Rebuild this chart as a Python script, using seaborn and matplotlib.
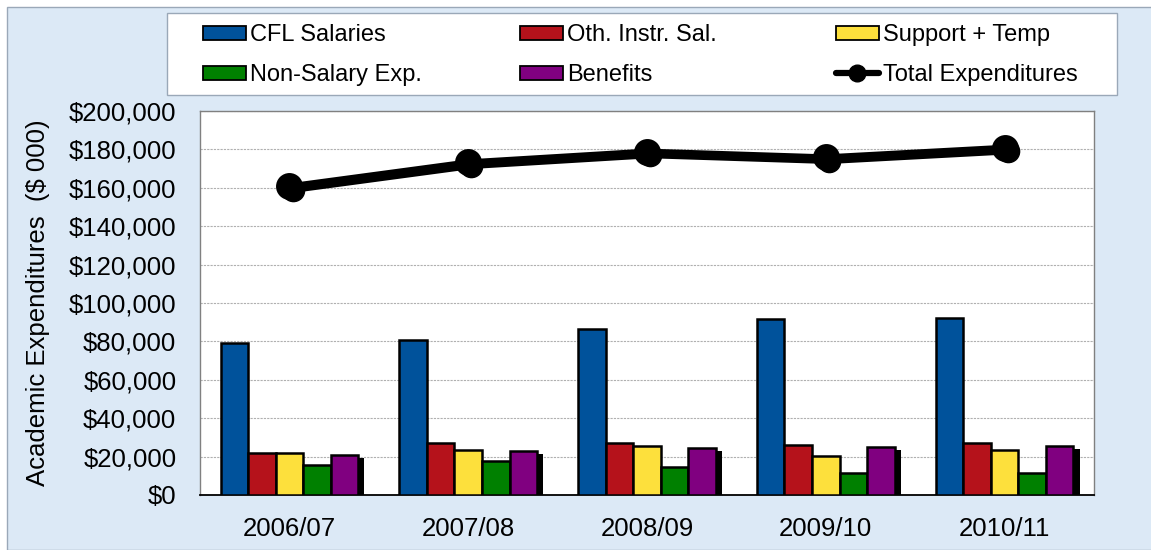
import pandas as pd
import matplotlib
matplotlib.use("Agg")
import matplotlib.pyplot as plt
import seaborn as sns
from matplotlib.patches import Rectangle
from matplotlib.lines import Line2D
from matplotlib.ticker import FuncFormatter, FixedLocator

years = ['2006/07', '2007/08', '2008/09', '2009/10', '2010/11']
cfl_salaries = [79000, 80500, 86500, 91600, 92000]
oth_instr_sal = [21800, 27200, 27300, 26000, 27300]
support_temp = [22000, 23600, 25300, 20500, 23500]
non_salary = [15800, 17700, 14400, 11600, 11200]
benefits = [20800, 22900, 24700, 25000, 25700]
total_exp = [160700, 173200, 178800, 175800, 180800]

series_names = ['CFL Salaries', 'Oth. Instr. Sal.', 'Support + Temp',
                'Non-Salary Exp.', 'Benefits']
colors = ['#00529b', '#b5121b', '#fde03c', '#008000', '#800080']

rows = []
for name, vals in zip(series_names, [cfl_salaries, oth_instr_sal, support_temp,
                                     non_salary, benefits]):
    for yr, v in zip(years, vals):
        rows.append({'year': yr, 'series': name, 'value': v})
df = pd.DataFrame(rows)

sns.set_style('white')
plt.rcParams['font.family'] = ['Liberation Sans', 'DejaVu Sans']
plt.rcParams.update({'text.color': 'black', 'axes.labelcolor': 'black',
                     'xtick.color': 'black', 'ytick.color': 'black'})

W, H = 1151, 550
fig = plt.figure(figsize=(W / 100, H / 100), dpi=100, facecolor='white')
# light blue chart area background
bg = Rectangle((7 / W, 0), 1, 1 - 7 / H, transform=fig.transFigure,
               facecolor='#dce9f6', edgecolor='#9aa8b8', lw=1, zorder=-10)
fig.patches.append(bg)

ax = fig.add_axes([200 / W, 1 - 495 / H, 894 / W, 384 / H])
ax.set_facecolor('white')

sns.barplot(data=df, x='year', y='value', hue='series', palette=colors,
            saturation=1, width=0.77, edgecolor='black', linewidth=1.8, ax=ax,
            legend=False, zorder=3)

# shadow behind the last series (Benefits)
n = len(years)
for p in ax.patches[-n:]:
    sh = Rectangle((p.get_x() + 0.034, 0), p.get_width(), p.get_height() - 1600,
                   facecolor='black', edgecolor='none', zorder=2)
    ax.add_patch(sh)

# total line with shadow
pos = list(range(n))
ax.plot([x + 0.018 for x in pos], [t - 1800 for t in total_exp], color='black',
        lw=4.5, marker='o', markersize=16, zorder=4)
sns.pointplot(x=years, y=total_exp, color='black', markers='o', markersize=16,
              linewidth=4.5, ax=ax, zorder=5)

ax.set_ylim(0, 200000)
ax.set_xlim(-0.5, n - 0.5)
ax.yaxis.set_major_locator(FixedLocator(range(0, 200001, 20000)))
ax.yaxis.set_major_formatter(FuncFormatter(lambda v, p: f'${int(v):,}'))
ax.grid(axis='y', color='#b0b0b0', lw=0.8, ls=(0, (2, 1)), zorder=0)
ax.set_axisbelow(True)

ax.set_xticks(pos)
ax.set_xticklabels(years)
ax.set_xticks([i - 0.5 for i in range(n + 1)], minor=True)
ax.tick_params(axis='x', which='major', length=0, labelsize=18.5, pad=16)
ax.tick_params(axis='x', which='minor', length=8, color='#808080', width=1)
ax.tick_params(axis='y', length=8, color='#808080', width=1, labelsize=18.5,
               pad=9)

for side in ['left', 'top', 'right']:
    ax.spines[side].set_color('#808080')
    ax.spines[side].set_linewidth(1)
ax.spines['bottom'].set_color('black')
ax.spines['bottom'].set_linewidth(1.3)

ax.set_xlabel('')
ax.set_ylabel('Academic Expenditures  ($ 000)', fontsize=18.5)
ax.yaxis.set_label_coords(-0.168, 0.5)

# legend box with three columns (row-wise order)
fig.patches.append(Rectangle((167 / W, 1 - 95 / H), 950 / W, 82 / H,
                             transform=fig.transFigure, facecolor='white',
                             edgecolor='#9aa8b8', lw=1, zorder=-5))
patch = lambda c: Rectangle((0, 0), 1, 1, facecolor=c, edgecolor='black', lw=1.3)
columns = [
    ([patch(colors[0]), patch(colors[3])], [series_names[0], series_names[3]], 203),
    ([patch(colors[1]), patch(colors[4])], [series_names[1], series_names[4]], 520),
    ([patch(colors[2]),
      Line2D([], [], color='black', lw=4.5, marker='o', markersize=12)],
     [series_names[2], 'Total Expenditures'], 836),
]
for hs, ls, x0 in columns:
    fig.legend(hs, ls, loc='center left', bbox_to_anchor=(x0 / W, 1 - 55 / H),
               fontsize=17, frameon=False, handlelength=1.8, handleheight=0.55,
               handletextpad=0.2, labelspacing=0.76, borderaxespad=0,
               borderpad=0)

fig.savefig('out.png', dpi=100)
